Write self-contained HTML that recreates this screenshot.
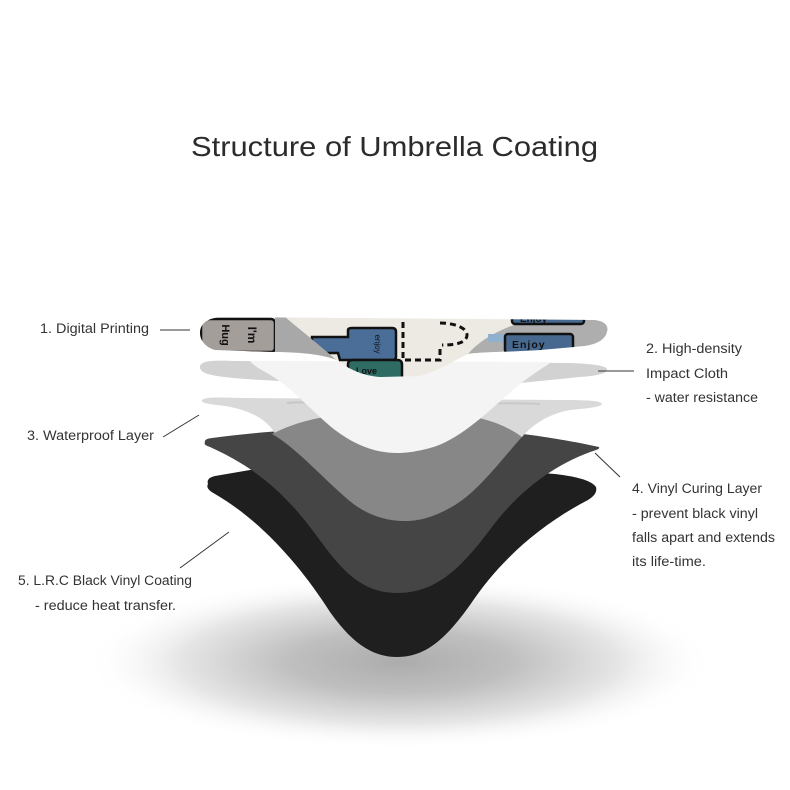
<!DOCTYPE html>
<html>
<head>
<meta charset="utf-8">
<style>
html,body{margin:0;padding:0;background:#fff;}
svg{display:block;}
.lbl{font-family:"Liberation Sans",sans-serif;font-size:13.5px;fill:#333;}
</style>
</head>
<body>
<svg width="790" height="790" viewBox="0 0 790 790" xmlns="http://www.w3.org/2000/svg">
<defs>
  <radialGradient id="sh" cx="50%" cy="50%" r="50%">
    <stop offset="0" stop-color="#acacac"/>
    <stop offset="0.35" stop-color="#bfbfbf"/>
    <stop offset="0.7" stop-color="#e6e6e6"/>
    <stop offset="1" stop-color="#ffffff" stop-opacity="0"/>
  </radialGradient>
  <clipPath id="pc">
    <path d="M200,333 C200,322 210,317 225,317 L595,320 C605,321 609,326 607,332 C605,340 597,344 585,346 L540,350 C510,352 480,352 468,354 C455,360 440,370 420,376 L380,377 C365,376 350,370 340,362 C330,355 300,352 275,352 L215,350 C205,347 200,340 200,333 Z"/>
  </clipPath>
</defs>
<rect width="790" height="790" fill="#fff"/>

<!-- shadow -->
<ellipse cx="400" cy="662" rx="315" ry="88" fill="url(#sh)"/>

<!-- title -->
<text x="191" y="156" font-family="'Liberation Sans',sans-serif" font-size="28" fill="#2b2b2b" textLength="407" lengthAdjust="spacingAndGlyphs">Structure of Umbrella Coating</text>

<!-- black layer -->
<path d="M208,484 Q206,478 215,476 L250,470 C320,465 480,468 555,474 Q590,478 596,487 Q598,494 588,500 C540,525 500,560 470,605 C445,640 425,657 397,657 C370,657 350,640 330,612 C300,565 260,520 215,494 Q205,489 208,484 Z" fill="#1f1f1f"/>

<!-- dark gray layer -->
<path d="M205,442 Q204,439 212,438 C260,432 300,428 400,428 C500,428 540,436 580,443 L599,447 Q600,449 596,450 C560,462 525,485 495,523 C465,563 440,593 397,593 C355,593 335,560 310,527 C280,488 250,465 210,447 Q203,445 205,442 Z" fill="#454545"/>

<!-- waterproof light layer -->
<path d="M202,401 C202,397 215,397 240,398 L560,400 C590,400 602,401 602,404 C601,407 590,408 570,410 C548,414 532,425 522,437 L400,432 L275,434 C268,420 250,410 225,406 C208,404 202,403 202,401 Z" fill="#d9d9d9"/>
<path d="M287,403 C300,402 310,402 320,404" stroke="#c6c6c6" stroke-width="2" fill="none"/>
<path d="M480,404 C500,403 520,403 540,404" stroke="#c9c9c9" stroke-width="2" fill="none"/>

<!-- medium gray layer -->
<path d="M272,434 C290,425 310,418 340,415 L460,415 C490,418 510,428 522,437 C505,455 480,490 455,505 C435,517 420,521 405,521 C385,521 365,515 345,497 C320,475 295,447 272,434 Z" fill="#878787"/>

<!-- high-density layer gray wings -->
<path d="M200,367 C200,361 212,360 235,361 L570,363 C595,364 608,366 607,370 C606,374 595,376 580,377 C560,379 540,381 520,383 L280,381 C240,379 215,377 205,373 C201,371 200,369 200,367 Z" fill="#d2d2d2"/>
<!-- white body -->
<path d="M250,361 L552,362 C542,368 530,376 515,388 C490,410 460,440 430,448 C415,452 405,453 397,453 C375,453 355,445 335,430 C310,410 290,385 265,372 C258,368 252,364 250,361 Z" fill="#f4f4f4"/>

<!-- printed layer -->
<g clip-path="url(#pc)">
  <rect x="195" y="310" width="420" height="75" fill="#ede9e3"/>
  <!-- left box -->
  <rect x="201" y="319" width="74" height="33" rx="4" fill="#a49e9a" stroke="#111" stroke-width="2.5"/>
  <text x="0" y="0" transform="translate(222,335) rotate(90)" font-family="'Liberation Sans',sans-serif" font-weight="bold" font-size="11" fill="#111" text-anchor="middle">Hug</text>
  <text x="0" y="0" transform="translate(248,335) rotate(90)" font-family="'Liberation Sans',sans-serif" font-weight="bold" font-size="12" fill="#111" text-anchor="middle">I'm</text>
  <!-- blue box left -->
  <path d="M312,337 L348,337 L348,330 Q348,328 352,328 L392,328 Q396,328 396,332 L396,357 Q396,360 392,360 L352,360 L340,360 L338,353 L314,353 Q312,353 312,350 Z" fill="#4a6e98" stroke="#111" stroke-width="2.5"/>
  <text x="0" y="0" transform="translate(375,344) rotate(90)" font-family="'Liberation Sans',sans-serif" font-size="8" fill="#111" text-anchor="middle">enjoy</text>
  <!-- gray fold left -->
  <path d="M275,316 L284,316 C300,330 320,345 343,366 L330,362 C315,355 295,353 275,353 Z" fill="#a8a8a8"/>
  <!-- green box -->
  <rect x="348" y="360" width="54" height="22" rx="4" fill="#2e6b63" stroke="#111" stroke-width="2.5"/>
  <text x="356" y="374" font-family="'Liberation Sans',sans-serif" font-weight="bold" font-size="9" fill="#111">Love</text>
  <!-- dashed cup -->
  <path d="M403,322 L403,360 L440,360 L440,348 M440,323 C455,323 467,328 467,335 C467,343 455,345 442,345" stroke="#111" stroke-width="3" stroke-dasharray="6 4" fill="none"/>
  <!-- right gray fold -->
  <path d="M468,354 C480,340 500,328 530,320 L595,320 C605,321 609,326 607,332 C605,340 597,344 585,346 L540,350 C510,352 480,352 468,354 Z" fill="#aeaeae"/>
  <rect x="488" y="334" width="18" height="8" fill="#8fb0cf"/>
  <rect x="505" y="334" width="68" height="19" rx="3" fill="#47698f" stroke="#111" stroke-width="2.5"/>
  <text x="512" y="348" font-family="'Liberation Sans',sans-serif" font-weight="bold" font-size="10.5" fill="#111" letter-spacing="1">Enjoy</text>
  <rect x="512" y="309" width="72" height="15" rx="3" fill="#47698f" stroke="#111" stroke-width="2.5"/>
  <text x="520" y="322" font-family="'Liberation Sans',sans-serif" font-weight="bold" font-size="10" fill="#111">Enjoy</text>
</g>

<!-- connector lines -->
<g stroke="#333" stroke-width="1" fill="none">
  <line x1="160" y1="330" x2="190" y2="330"/>
  <line x1="163" y1="437" x2="199" y2="415"/>
  <line x1="598" y1="371" x2="634" y2="371"/>
  <line x1="595" y1="453" x2="620" y2="477"/>
  <line x1="180" y1="568" x2="229" y2="532"/>
</g>

<!-- labels -->
<text class="lbl" x="40" y="333" textLength="109" lengthAdjust="spacingAndGlyphs">1. Digital Printing</text>
<text class="lbl" x="27" y="440" textLength="127" lengthAdjust="spacingAndGlyphs">3. Waterproof Layer</text>
<text class="lbl" x="646" y="353" textLength="96" lengthAdjust="spacingAndGlyphs">2. High-density</text>
<text class="lbl" x="646" y="378" textLength="82" lengthAdjust="spacingAndGlyphs">Impact Cloth</text>
<text class="lbl" x="646" y="402" textLength="112" lengthAdjust="spacingAndGlyphs">- water resistance</text>
<text class="lbl" x="632" y="493" textLength="130" lengthAdjust="spacingAndGlyphs">4. Vinyl Curing Layer</text>
<text class="lbl" x="632" y="518" textLength="126" lengthAdjust="spacingAndGlyphs">- prevent black vinyl</text>
<text class="lbl" x="632" y="542" textLength="143" lengthAdjust="spacingAndGlyphs">falls apart and extends</text>
<text class="lbl" x="632" y="566" textLength="74" lengthAdjust="spacingAndGlyphs">its life-time.</text>
<text class="lbl" x="18" y="585" textLength="174" lengthAdjust="spacingAndGlyphs">5. L.R.C Black Vinyl Coating</text>
<text class="lbl" x="35" y="610" textLength="141" lengthAdjust="spacingAndGlyphs">- reduce heat transfer.</text>
</svg>
</body>
</html>
